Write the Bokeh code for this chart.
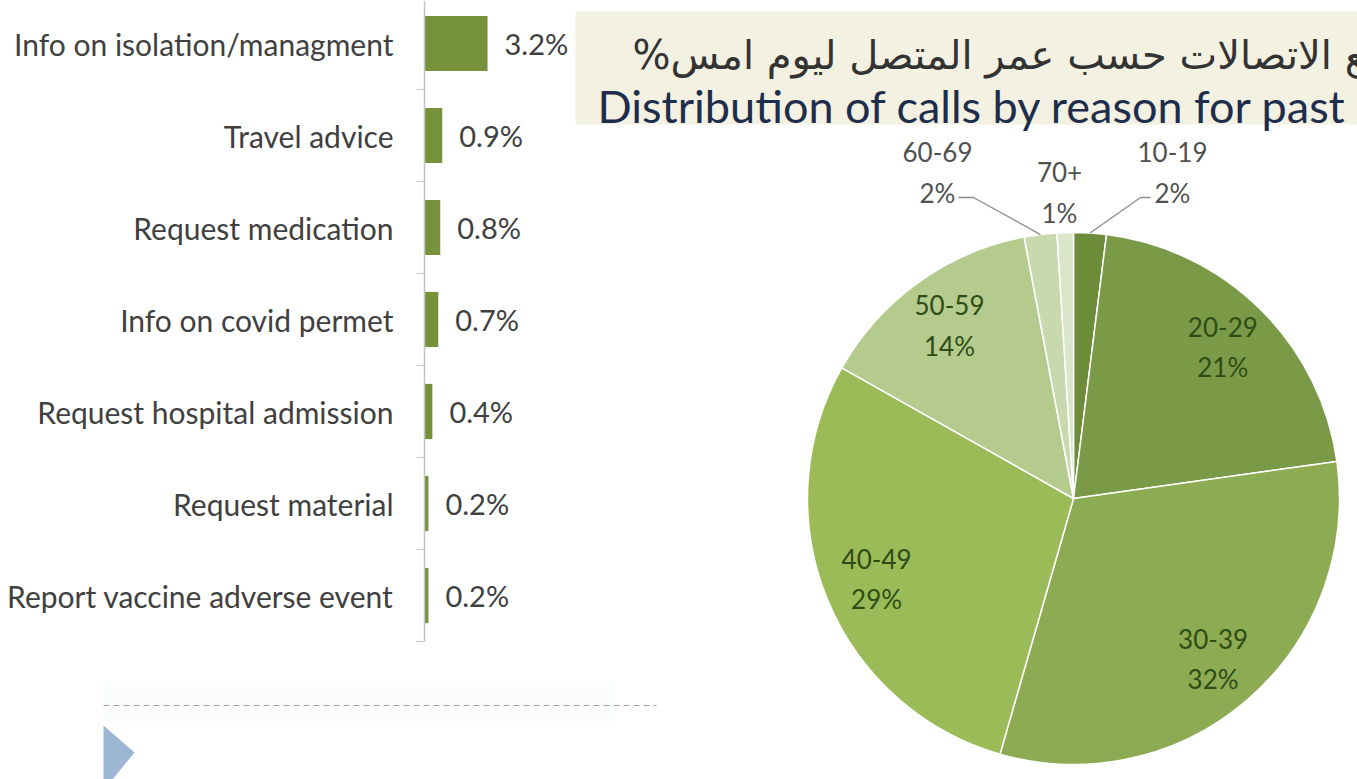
import math
from bokeh.plotting import figure
from bokeh.models import Range1d, FixedTicker, ColumnDataSource, LinearAxis
from bokeh.core.properties import value
from bokeh.embed import file_html
from bokeh.resources import INLINE

# ---------------- data ----------------
reasons = ["Report vaccine adverse event", "Request material", "Request hospital admission",
           "Info on covid permet", "Request medication", "Travel advice",
           "Info on isolation/managment"]
reason_share = [0.2, 0.2, 0.4, 0.7, 0.8, 0.9, 3.2]
reason_labels = ["0.2%", "0.2%", "0.4%", "0.7%", "0.8%", "0.9%", "3.2%"]

age_groups = ["10-19", "20-29", "30-39", "40-49", "50-59", "60-69", "70+"]
age_share = [2, 21, 32, 29, 14, 2, 1]
age_labels = ["2%", "21%", "32%", "29%", "14%", "2%", "1%"]

title_ar = "توزيع الاتصالات حسب عمر المتصل ليوم امس%\u200f"
title_en = "Distribution of calls by reason for past day"

# ---------------- style / layout ----------------
FONT = "Lato"
AR_FONT = "DejaVu Sans"
BAR_COLOR = "#76933c"
TEXT_GREY = "#404040"
AXIS_GREY = "#c4c4c4"
SLICE_COLORS = ["#6c8c3a", "#7b9a47", "#8cab52", "#9bbb59", "#b4cb8d", "#c8d9ae", "#d9e6c7"]
INSIDE_TEXT = "#2e4c14"
OUTSIDE_TEXT = "#505050"

W, H = 1357, 779
AXIS_X = 424          # pixel position of the bar chart's value axis
PX_PER_PCT = 19.7
ROW_PX = 92
ROW0_Y = 595          # pixel centre of the lowest bar row

p = figure(width=W, height=H, output_backend="svg", toolbar_location=None,
           x_range=Range1d(-AXIS_X / PX_PER_PCT, (W - AXIS_X) / PX_PER_PCT),
           y_range=Range1d(-(H - ROW0_Y) / ROW_PX, ROW0_Y / ROW_PX),
           x_axis_location=None, y_axis_location=None, min_border=0)
p.outline_line_color = None
p.grid.visible = False
p.background_fill_color = "white"
p.extra_x_ranges = {"px": Range1d(0, W)}
p.extra_y_ranges = {"py": Range1d(H, 0)}
PX = dict(x_range_name="px", y_range_name="py")

# ---------------- bar chart ----------------
ypos = list(range(len(reasons)))
bar_src = ColumnDataSource(dict(y=ypos, v=reason_share, lbl=reason_labels))
p.hbar(y="y", left=0, right="v", height=0.6, source=bar_src,
       fill_color=BAR_COLOR, line_color=None)
p.text(x="v", y="y", text="lbl", source=bar_src, x_offset=17,
       text_align="left", text_baseline="middle", text_color=TEXT_GREY,
       text_font=value(FONT), text_font_size="29px")

ax = LinearAxis(fixed_location=0, bounds=(-0.5, ROW0_Y / ROW_PX))
ax.ticker = FixedTicker(ticks=ypos, minor_ticks=[i - 0.5 for i in range(len(reasons) + 1)])
ax.major_label_overrides = {i: r for i, r in enumerate(reasons)}
ax.major_tick_in = 0
ax.major_tick_out = 0
ax.minor_tick_in = 0
ax.minor_tick_out = 8
ax.minor_tick_line_color = AXIS_GREY
ax.axis_line_color = AXIS_GREY
ax.axis_line_width = 1.5
ax.major_label_standoff = 23
ax.major_label_text_font = FONT
ax.major_label_text_font_size = "30px"
ax.major_label_text_color = TEXT_GREY
p.add_layout(ax, "left")

# ---------------- decoration under the bar chart ----------------
p.quad(left=103, right=615, top=680, bottom=720, fill_color="#fafcfe", line_color=None, **PX)
p.segment(x0=103, y0=705, x1=656, y1=705, line_color="#a0a0a0", line_width=1.2,
          line_dash="6 4", **PX)
p.patch(x=[103, 103, 134], y=[725, 790, 752], fill_color="#9db6d4", line_color=None, **PX)

# ---------------- title box ----------------
p.quad(left=575, right=W + 10, top=11, bottom=124, fill_color="#f3f1e1", line_color=None, **PX)
p.text(x=[632], y=[54], text=[title_ar], text_align="left", text_baseline="alphabetic",
       text_font=value(AR_FONT), text_font_size="40px", text_color="#333333", **PX)
p.text(x=[597], y=[105], text=[title_en], text_align="left", text_baseline="alphabetic",
       text_font=value(FONT), text_font_size="45px", text_color="#1f2d4d", **PX)

# ---------------- pie chart ----------------
CX, CY, R = 1073, 498, 266
total = sum(age_share)
starts, ends, mids = [], [], []
cum = 0
for s in age_share:
    a0 = math.pi / 2 - 2 * math.pi * cum / total
    cum += s
    a1 = math.pi / 2 - 2 * math.pi * cum / total
    starts.append(a0)
    ends.append(a1)
    mids.append((a0 + a1) / 2)

pie_src = ColumnDataSource(dict(start=starts, end=ends, color=SLICE_COLORS, grp=age_groups))
p.wedge(x=CX, y=CY, radius=R, start_angle="start", end_angle="end", direction="clock",
        fill_color="color", line_color="white", line_width=1.5, source=pie_src, **PX)

outside = {"10-19": (1172, 172), "60-69": (937, 172), "70+": (1059, 192)}
elbows = {"10-19": [(1140, 197), (1150, 197)], "60-69": [(973, 197), (958, 197)]}
lx, ly, lt, lc = [], [], [], []
for g, pct, m in zip(age_groups, age_labels, mids):
    if g in outside:
        x, y = outside[g]
        c = OUTSIDE_TEXT
        if g in elbows:
            ex = CX + R * math.cos(m)
            ey = CY - R * math.sin(m)
            pts = [(ex, ey)] + elbows[g]
            p.line(x=[q[0] for q in pts], y=[q[1] for q in pts], line_color="#8c8c8c",
                   line_width=1.3, **PX)
    else:
        x = CX + 0.8 * R * math.cos(m)
        y = CY - 0.8 * R * math.sin(m)
        c = INSIDE_TEXT
    lx.append(x)
    ly.append(y)
    lt.append(g + "\n" + pct)
    lc.append(c)
p.text(x=lx, y=ly, text=lt, text_color=lc, text_align="center", text_baseline="middle",
       text_font=value(FONT), text_font_size="26px", text_line_height=1.27, **PX)

open("out.html", "w").write(file_html(p, INLINE))
